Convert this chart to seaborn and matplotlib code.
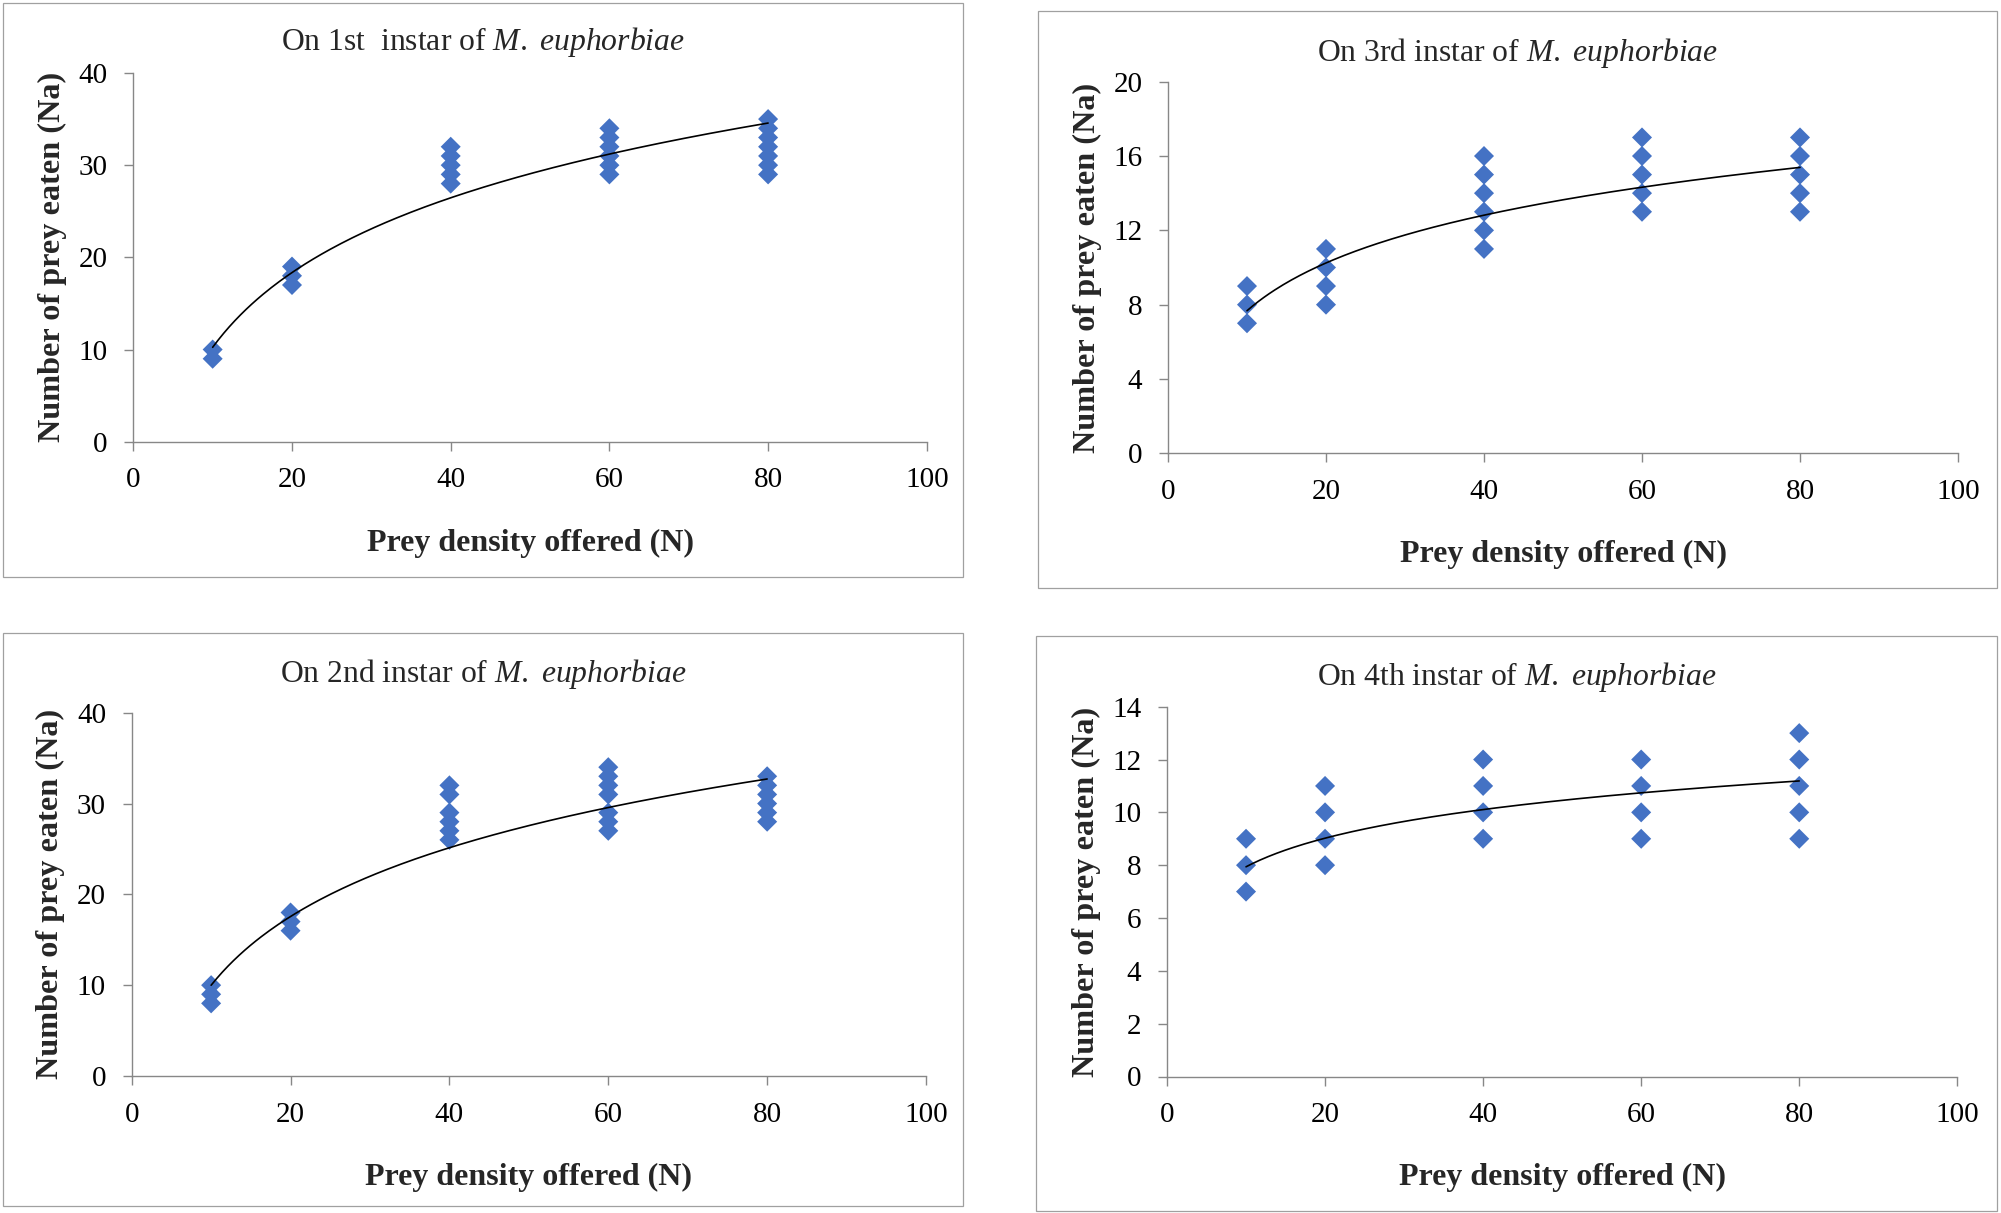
import numpy as np
import pandas as pd
import matplotlib
matplotlib.use("Agg")
import matplotlib.pyplot as plt
import seaborn as sns
from matplotlib.patches import Rectangle

# prey density offered (N) and number of prey eaten (Na), per instar
density_1st = [10, 10, 20, 20, 20, 40, 40, 40, 40, 40,
               60, 60, 60, 60, 60, 60, 80, 80, 80, 80, 80, 80, 80]
eaten_1st = [9, 10, 17, 18, 19, 28, 29, 30, 31, 32,
             29, 30, 31, 32, 33, 34, 29, 30, 31, 32, 33, 34, 35]

density_2nd = [10, 10, 10, 20, 20, 20, 40, 40, 40, 40, 40, 40,
               60, 60, 60, 60, 60, 60, 60, 80, 80, 80, 80, 80, 80]
eaten_2nd = [8, 9, 10, 16, 17, 18, 26, 27, 28, 29, 31, 32,
             27, 28, 29, 31, 32, 33, 34, 28, 29, 30, 31, 32, 33]

density_3rd = [10, 10, 10, 20, 20, 20, 20, 40, 40, 40, 40, 40, 40,
               60, 60, 60, 60, 60, 80, 80, 80, 80, 80]
eaten_3rd = [7, 8, 9, 8, 9, 10, 11, 11, 12, 13, 14, 15, 16,
             13, 14, 15, 16, 17, 13, 14, 15, 16, 17]

density_4th = [10, 10, 10, 20, 20, 20, 20, 40, 40, 40, 40,
               60, 60, 60, 60, 80, 80, 80, 80, 80]
eaten_4th = [7, 8, 9, 8, 9, 10, 11, 9, 10, 11, 12,
             9, 10, 11, 12, 9, 10, 11, 12, 13]

# logarithmic trendline Na = a*ln(N) + b
trend_1st = (11.7, -16.7)
trend_2nd = (10.92, -15.15)
trend_3rd = (3.71, -0.87)
trend_4th = (1.563, 4.34)

titles = [r"On 1st  instar of $\mathit{M.}$ $\mathit{euphorbiae}$",
          r"On 3rd instar of $\mathit{M.}$ $\mathit{euphorbiae}$",
          r"On 2nd instar of $\mathit{M.}$ $\mathit{euphorbiae}$",
          r"On 4th instar of $\mathit{M.}$ $\mathit{euphorbiae}$"]
x_ticks = [0, 20, 40, 60, 80, 100]
y_ticks_1st = [0, 10, 20, 30, 40]
y_ticks_3rd = [0, 4, 8, 12, 16, 20]
y_ticks_2nd = [0, 10, 20, 30, 40]
y_ticks_4th = [0, 2, 4, 6, 8, 10, 12, 14]

W, H = 2001, 1213
BLUE = "#4472C4"
GREY = "#878787"

sns.set_theme(style="white")
plt.rcParams['font.family'] = ['Liberation Serif', 'DejaVu Serif']
plt.rcParams['mathtext.fontset'] = 'custom'
plt.rcParams['mathtext.rm'] = 'Liberation Serif'
plt.rcParams['mathtext.it'] = 'Liberation Serif:italic'

fig = plt.figure(figsize=(W / 100, H / 100), dpi=100)

# pixel layout: (panel box l, t, r, b), (axes l, t, r, b), title baseline
layout = [
    ((3.3, 2.5, 963, 576.7), (133.3, 73, 926.8, 441.7), 50.4),
    ((1038.3, 11, 1997, 588), (1168, 81.7, 1958, 453.3), 61.5),
    ((3.3, 633.3, 963, 1206), (131.7, 712.7, 926, 1076), 681.7),
    ((1036, 635.7, 1996.7, 1211), (1167, 706.7, 1957.3, 1076.5), 685),
]

panels = [
    (density_1st, eaten_1st, trend_1st, y_ticks_1st),
    (density_3rd, eaten_3rd, trend_3rd, y_ticks_3rd),
    (density_2nd, eaten_2nd, trend_2nd, y_ticks_2nd),
    (density_4th, eaten_4th, trend_4th, y_ticks_4th),
]

for i, (dens, eaten, trend, yt) in enumerate(panels):
    box, axbox, title_y = layout[i]

    # chart area border
    fig.patches.append(Rectangle((box[0] / W, 1 - box[3] / H),
                                 (box[2] - box[0]) / W, (box[3] - box[1]) / H,
                                 transform=fig.transFigure, fill=False,
                                 edgecolor="#A0A0A0", lw=0.9))

    ax = fig.add_axes([axbox[0] / W, 1 - axbox[3] / H,
                       (axbox[2] - axbox[0]) / W, (axbox[3] - axbox[1]) / H])
    df = pd.DataFrame({"N": dens, "Na": eaten})
    sns.scatterplot(data=df, x="N", y="Na", marker="D", s=104, color=BLUE,
                    edgecolor="none", linewidth=0, legend=False, ax=ax, zorder=2)

    curve_x = np.linspace(min(dens), max(dens), 200)
    curve_y = trend[0] * np.log(curve_x) + trend[1]
    sns.lineplot(x=curve_x, y=curve_y, color="black", lw=1.2, ax=ax, zorder=3)

    ax.set_xlim(0, 100)
    ax.set_ylim(0, yt[-1])
    ax.set_xticks(x_ticks)
    ax.set_yticks(yt)
    ax.set_xlabel("")
    ax.set_ylabel("")
    for side in ["top", "right"]:
        ax.spines[side].set_visible(False)
    for side in ["left", "bottom"]:
        ax.spines[side].set_color(GREY)
        ax.spines[side].set_linewidth(1.0)
    ax.tick_params(direction="out", length=6.5, width=1.0, color=GREY,
                   labelsize=21, pad=12, bottom=True, left=True,
                   labelcolor="black")

    # titles centred on the chart box, axis labels centred on the plot
    fig.text((box[0] + box[2]) / 2 / W, 1 - title_y / H, titles[i],
             ha="center", va="baseline", fontsize=22.8)
    fig.text((axbox[0] + axbox[2]) / 2 / W, 1 - (axbox[3] + 109) / H,
             "Prey density offered (N)", ha="center", va="baseline",
             fontsize=23, fontweight="bold")
    fig.text((axbox[0] - 81) / W, 1 - (axbox[1] + axbox[3]) / 2 / H,
             "Number of prey eaten (Na)", ha="center", va="center",
             rotation=90, fontsize=23.2, fontweight="bold")

fig.savefig("out.png", dpi=100)
